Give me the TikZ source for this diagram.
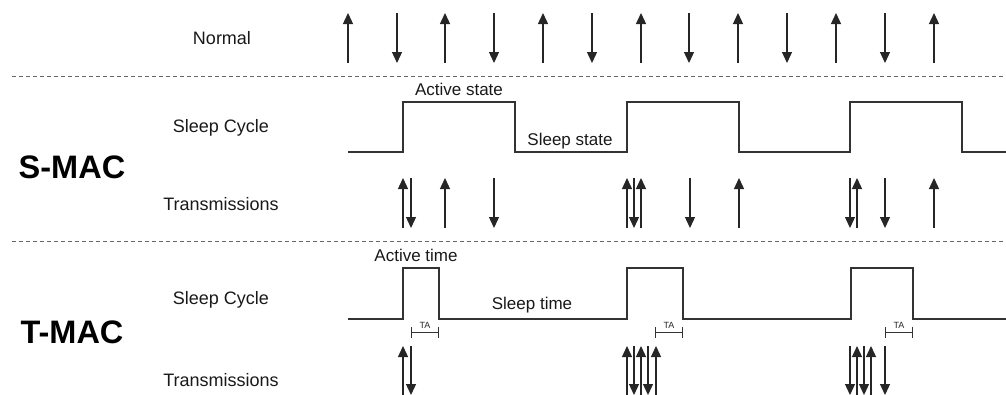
\documentclass[tikz,border=0pt]{standalone}
\usepackage{fontspec}
\setmainfont{Liberation Sans}
\usetikzlibrary{arrows.meta}
\begin{document}
\begin{tikzpicture}[x=1pt,y=-1pt,
  arr/.style={line width=1.3pt,draw=black!85,-{Triangle[length=11pt,width=10pt]}},
  wave/.style={line width=1.3pt,draw=black!80,line join=miter},
  sep/.style={line width=0.9pt,draw=black!60,dash pattern=on 4pt off 3pt},
  lbl/.style={font=\fontsize{18}{20}\selectfont,text=black!90,inner sep=0pt},
  sub/.style={font=\fontsize{17}{19}\selectfont,text=black!90,inner sep=0pt},
  big/.style={font=\bfseries\fontsize{32.5}{36}\selectfont,text=black,inner sep=0pt},
  ta/.style={font=\fontsize{9}{10}\selectfont,text=black!85,inner sep=0pt},
  brk/.style={line width=1pt,draw=black!80,{Bar[width=11pt]}-{Bar[width=11pt]}}]
\useasboundingbox (0,0) rectangle (1006,394);
% labels
\node[lbl] (normal) at (222,38) {Normal};
\node[lbl] (sc1) at (221,128) {Sleep Cycle};
\node[lbl] (tr1) at (221,204) {Transmissions};
\node[big] (smac) at (72,167) {S-MAC};
\node[lbl] (sc2) at (221,300) {Sleep Cycle};
\node[lbl] (tr2) at (221,380) {Transmissions};
\node[big] (tmac) at (72,332) {T-MAC};
% separators
\draw[sep] (12,76) -- (1006,76);
\draw[sep] (12,241) -- (1006,241);
% normal row
\foreach \x in {348,445,543,641,738,836,934} \draw[arr] (\x,63) -- (\x,13);
\foreach \x in {397,494,592,689,787,885} \draw[arr] (\x,13) -- (\x,63);
% S-MAC sleep cycle
\draw[wave] (348,152) -- (403,152) -- (403,102) -- (515,102) -- (515,152) -- (627,152) -- (627,102) -- (739,102) -- (739,152) -- (850,152) -- (850,102) -- (962,102) -- (962,152) -- (1006,152);
\node[sub] (as) at (459,89) {Active state};
\node[sub] (ss) at (570,141) {Sleep state};
% S-MAC transmissions
\foreach \x in {403,445,627,641,739,857,934} \draw[arr] (\x,228) -- (\x,178);
\foreach \x in {411,494,634,690,850,885} \draw[arr] (\x,178) -- (\x,228);
% T-MAC sleep cycle
\draw[wave] (348,319) -- (403,319) -- (403,268) -- (439,268) -- (439,319) -- (627,319) -- (627,268) -- (683,268) -- (683,319) -- (851,319) -- (851,268) -- (913,268) -- (913,319) -- (1006,319);
\node[sub] (at) at (416,255) {Active time};
\node[sub] (st) at (532,305) {Sleep time};
% TA brackets
\draw[brk] (411,332) -- (439,332);
\draw[brk] (655,332) -- (683,332);
\draw[brk] (885,332) -- (913,332);
\node[ta] (ta1) at (425,325) {TA};
\node[ta] (ta2) at (669,325) {TA};
\node[ta] (ta3) at (899,325) {TA};
% T-MAC transmissions
\foreach \x in {403,627,641,656,857,871} \draw[arr] (\x,396) -- (\x,346);
\foreach \x in {411,634,648,850,864,885} \draw[arr] (\x,346) -- (\x,395);
\end{tikzpicture}
\end{document}
